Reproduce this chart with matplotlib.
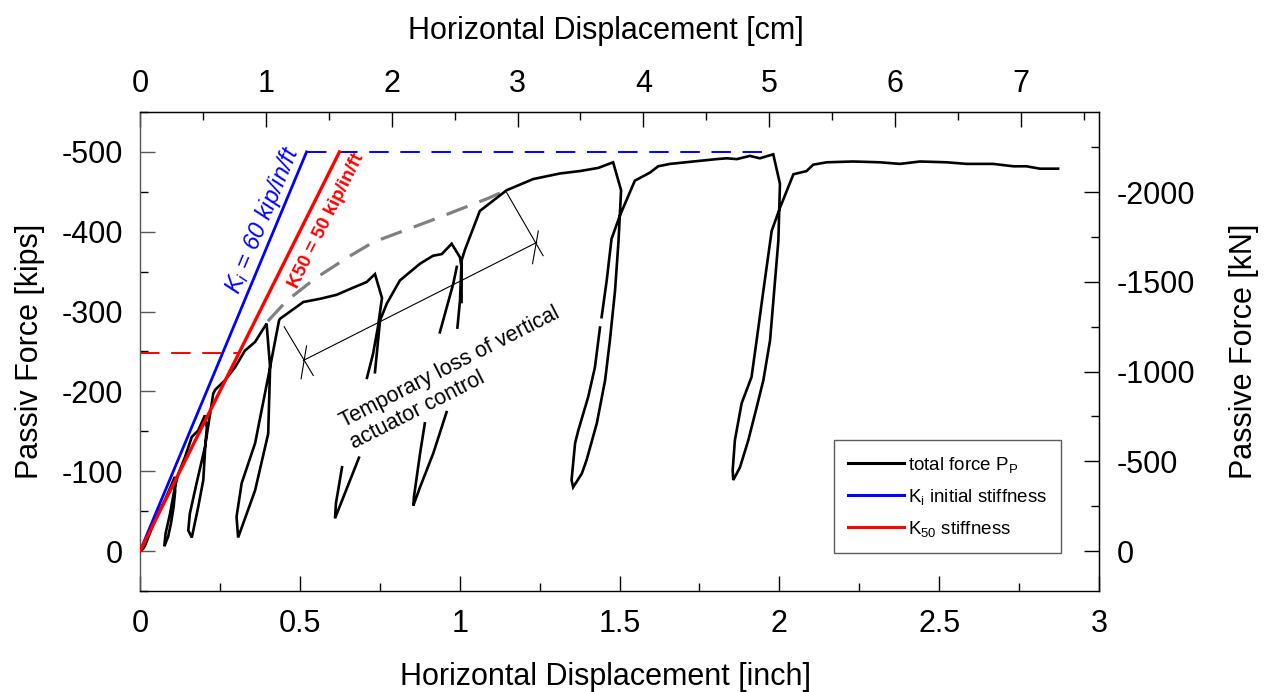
import numpy as np
import matplotlib
matplotlib.use('Agg')
import matplotlib.pyplot as plt
from matplotlib.ticker import MultipleLocator, FuncFormatter

plt.rcParams['font.family'] = ['Liberation Sans', 'DejaVu Sans']
plt.rcParams['axes.unicode_minus'] = False
plt.rcParams['mathtext.fontset'] = 'custom'
plt.rcParams['mathtext.rm'] = 'Liberation Sans'
plt.rcParams['mathtext.it'] = 'Liberation Sans:italic'
plt.rcParams['mathtext.bf'] = 'Liberation Sans:bold'

nan = np.nan

# ---------------- data ----------------
disp_in = [
    0.000, 0.010, 0.016, 0.047, 0.078, 0.109,
    0.110, 0.105, 0.097, 0.088, 0.076,
    0.080, 0.094, 0.109, 0.120, 0.141, 0.162, 0.182, 0.203,
    0.209, 0.204, 0.198, 0.182, 0.162,
    0.151, 0.156, 0.177, 0.203, 0.229, 0.235, 0.266, 0.297, 0.328, 0.360, 0.396,
    0.407, 0.401, 0.360, 0.307,
    0.302, 0.318, 0.360, 0.401, 0.435,
    0.438, 0.511, 0.563, 0.615, 0.667, 0.709, 0.735,
    0.757, 0.744, 0.729, 0.710, nan, 0.685, 0.610,
    0.613, 0.632, nan, 0.735, 0.751, 0.772, 0.813, 0.876, 0.917, 0.944, 0.975,
    1.001, 1.006, 1.006, nan, 0.959, 0.917, 0.876, 0.855,
    0.857, 0.876, 0.891, nan, 0.938, 0.980, 0.991, nan,
    0.993, 1.001, 1.006, 1.017, 1.063, 1.147, 1.230, 1.314, 1.376, 1.434, 1.480,
    1.505, 1.497, 1.486, 1.470, 1.455, 1.429, 1.397, 1.382, 1.355,
    1.350, 1.361, 1.371, 1.402, 1.423, 1.439, nan, 1.444, 1.460, 1.475, 1.501,
    1.548, 1.595, 1.621, 1.658, 1.731, 1.804, 1.835, 1.867, 1.908, 1.939, 1.981,
    2.002, 1.997, 1.984, 1.971, 1.950, 1.929, 1.903, 1.877, 1.856,
    1.854, 1.861, 1.882, 1.913, 1.929, 1.950, 1.976, 2.002, 2.044, 2.085, 2.106,
    2.148, 2.231, 2.315, 2.377, 2.440, 2.523, 2.586, 2.669, 2.732, 2.773, 2.815, 2.872,
]
force_kips = [
    0, -3, -7, -39, -64, -93,
    -75, -55, -35, -18, -6,
    -22, -47, -80, -97, -118, -143, -151, -170,
    -155, -130, -89, -55, -17,
    -26, -47, -85, -130, -197, -202, -214, -230, -251, -262, -285,
    -230, -147, -76, -17,
    -43, -85, -135, -218, -289,
    -291, -312, -316, -321, -330, -337, -347,
    -317, -280, -247, -217, nan, -117, -41,
    -60, -105, nan, -224, -289, -310, -339, -360, -370, -372, -385,
    -368, -355, -312, nan, -174, -122, -80, -57,
    -68, -122, -160, nan, -274, -335, -356, nan,
    -280, -314, -364, -378, -426, -452, -466, -473, -476, -480, -487,
    -452, -389, -326, -264, -214, -160, -114, -97, -80,
    -89, -135, -151, -193, -230, -280, nan, -293, -339, -391, -420,
    -464, -474, -482, -485, -488, -491, -492, -491, -495, -492, -497,
    -460, -389, -326, -264, -214, -180, -139, -105, -89,
    -101, -139, -185, -218, -264, -326, -401, -430, -472, -476, -484,
    -487, -488, -487, -485, -488, -487, -485, -485, -482, -482, -479, -479,
]
assert len(disp_in) == len(force_kips)

ki_x = [0.0, 0.521]
ki_y = [0, -500]
ki_cap_x = [0.521, 1.97]
ki_cap_y = [-500, -500]
k50_x = [0.0, 0.624]
k50_y = [0, -500]
k50_ref_x = [0.0, 0.31]
k50_ref_y = [-248, -248]

trend_x = [0.40, 0.46, 0.55, 0.65, 0.73, 0.83, 0.91, 1.00, 1.09, 1.14]
trend_y = [-288, -314, -342, -368, -387, -402, -414, -428, -442, -451]

dim_x = [0.511, 1.241]
dim_y = [-238.8, -386.6]
ext1_x = [0.451, 0.542]
ext1_y = [-281, -220]
ext2_x = [1.147, 1.261]
ext2_y = [-449, -370]
tick1_x = [0.504, 0.521]
tick1_y = [-216, -257]
tick2_x = [1.228, 1.246]
tick2_y = [-360, -401]

x_major_in = 0.5
y_major_kips = 100
cm_per_in = 2.54
kn_per_kip = 4.448

# ---------------- figure ----------------
W, H = 1265, 692
fig = plt.figure(figsize=(W / 100, H / 100), dpi=100)
L, R, T, B = 140, 1099, 112, 591
ax = fig.add_axes([L / W, 1 - B / H, (R - L) / W, (B - T) / H])

ax.set_xlim(0, 3)
ax.set_ylim(50, -550)

FS = 22
fmt = FuncFormatter(lambda v, p: '0' if abs(v) < 1e-9 else f'{v:g}')

ax.plot(trend_x, trend_y, color='#808080', lw=2.3, dashes=(7, 4), zorder=2)
ax.plot(disp_in, force_kips, color='black', lw=1.9, zorder=3,
        label=r'total force P$_\mathregular{P}$', solid_joinstyle='miter')
ax.plot(ki_cap_x, ki_cap_y, color='blue', lw=1.4, dashes=(10, 6), zorder=2)
ax.plot(k50_ref_x, k50_ref_y, color='red', lw=1.4, dashes=(10, 6), zorder=2)
ax.plot(ki_x, ki_y, color='blue', lw=2.0, zorder=4,
        label=r'K$_\mathregular{i}$ initial stiffness')
ax.plot(k50_x, k50_y, color='red', lw=2.4, zorder=4,
        label=r'K$_\mathregular{50}$ stiffness')

# dimension annotation
for xs, ys in [(dim_x, dim_y), (ext1_x, ext1_y), (ext2_x, ext2_y),
               (tick1_x, tick1_y), (tick2_x, tick2_y)]:
    ax.plot(xs, ys, color='black', lw=0.8, zorder=3)

ax.text(0.666, -131, 'Temporary loss of vertical\nactuator control',
        rotation=27, rotation_mode='anchor', ha='left', va='baseline',
        multialignment='left', fontsize=15.5, linespacing=1.2)

# slope labels parallel to lines
fig.canvas.draw()
def screen_angle(xs, ys):
    p = ax.transData.transform(np.column_stack([xs, ys]))
    return np.degrees(np.arctan2(p[1, 1] - p[0, 1], p[1, 0] - p[0, 0]))

ax.text(0.385, -415, r'K$_{i}$ = 60 kip/in/ft', color='blue', style='italic',
        fontsize=17, rotation=screen_angle(ki_x, ki_y), rotation_mode='anchor',
        ha='center', va='center')
ax.text(0.585, -414, 'K50 = 50 kip/in/ft', color='red', fontweight='bold',
        fontsize=13.5, rotation=screen_angle(k50_x, k50_y), rotation_mode='anchor',
        ha='center', va='center')

# axes styling
ax.xaxis.set_major_locator(MultipleLocator(x_major_in))
ax.xaxis.set_minor_locator(MultipleLocator(x_major_in / 2))
ax.yaxis.set_major_locator(MultipleLocator(y_major_kips))
ax.yaxis.set_minor_locator(MultipleLocator(y_major_kips / 2))
ax.xaxis.set_major_formatter(fmt)
ax.yaxis.set_major_formatter(fmt)
ax.tick_params(which='major', direction='in', length=11, width=1.0,
               labelsize=FS, pad=12)
ax.tick_params(axis='x', pad=13)
ax.tick_params(which='minor', direction='in', length=6, width=1.0)
ax.tick_params(axis='y', colors='#555555', labelcolor='black')
ax.spines['left'].set_color('#555555')
for s in ax.spines.values():
    s.set_linewidth(1.0)
ax.xaxis.get_offset_text().set_visible(False)
ax.yaxis.get_offset_text().set_visible(False)

ax.set_xlabel('Horizontal Displacement [inch]', fontsize=FS, labelpad=16.5)
ax.xaxis.label.set_x((606 - L) / (R - L))
ax.set_ylabel('Passiv Force [kips]', fontsize=FS, labelpad=12)

secx = ax.secondary_xaxis('top', functions=(lambda x: x * cm_per_in,
                                            lambda x: x / cm_per_in))
secx.xaxis.set_major_locator(MultipleLocator(1))
secx.xaxis.set_minor_locator(MultipleLocator(0.5))
secx.xaxis.set_major_formatter(fmt)
secx.tick_params(which='major', direction='in', length=11, width=1.0,
                 labelsize=FS, pad=9)
secx.tick_params(which='minor', direction='in', length=6, width=1.0)
secx.set_xlabel('Horizontal Displacement [cm]', fontsize=FS, labelpad=22)
secx.xaxis.label.set_x((606 - L) / (R - L))
secx.xaxis.get_offset_text().set_visible(False)

secy = ax.secondary_yaxis('right', functions=(lambda y: y * kn_per_kip,
                                              lambda y: y / kn_per_kip))
secy.yaxis.set_major_locator(MultipleLocator(500))
secy.yaxis.set_minor_locator(MultipleLocator(250))
secy.yaxis.set_major_formatter(fmt)
secy.tick_params(which='major', direction='in', length=11, width=1.0,
                 labelsize=FS, pad=13)
secy.tick_params(which='minor', direction='in', length=6, width=1.0)
secy.set_ylabel('Passive Force [kN]', fontsize=FS, labelpad=24)
secy.yaxis.get_offset_text().set_visible(False)

leg = ax.legend(loc='lower right', bbox_to_anchor=((1061 - L) / (R - L), (B - 553) / (B - T)),
                fontsize=13.5, frameon=True, fancybox=False, handlelength=3.0,
                labelspacing=0.65, borderpad=0.75, handletextpad=0.2,
                borderaxespad=0)
leg.get_frame().set_edgecolor('#333333')
leg.get_frame().set_linewidth(1.0)
for h in leg.get_lines():
    h.set_linewidth(2.2)

fig.savefig('out.png', dpi=100)
